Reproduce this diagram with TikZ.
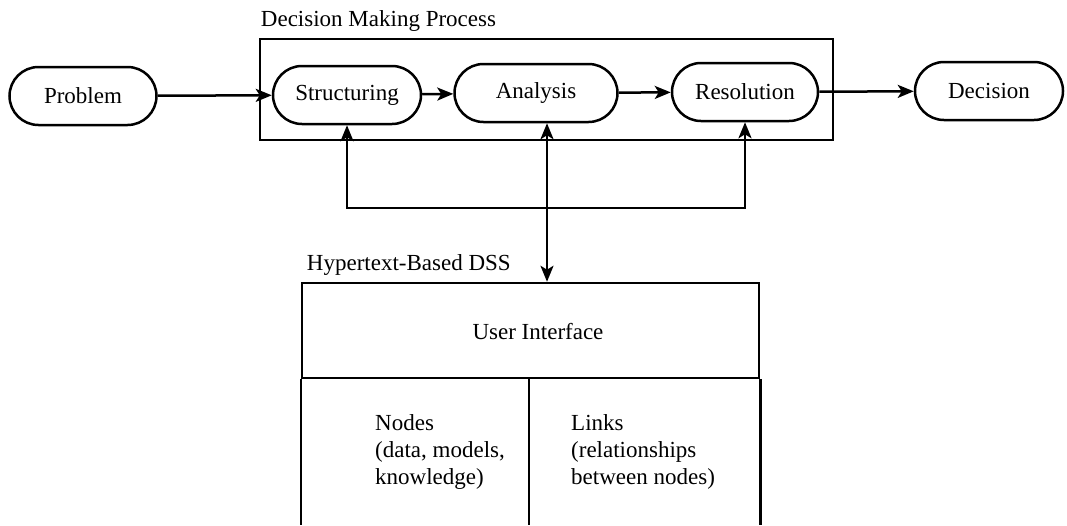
\documentclass[tikz,border=0pt]{standalone}
\usepackage{fontspec}
\setmainfont{Liberation Serif}
\usetikzlibrary{arrows.meta,shapes.misc}
\tikzset{
	stage/.style={draw,rounded rectangle,line width=2.5pt,minimum height=58pt,inner sep=0pt},
	frame/.style={draw,line width=2.5pt,inner sep=0pt},
	arr/.style={line width=2.5pt,-{Stealth[length=16pt,width=13pt,inset=4pt]}},
	darr/.style={line width=2.5pt,{Stealth[length=16pt,width=13pt,inset=4pt]}-{Stealth[length=16pt,width=13pt,inset=4pt]}}
}
\begin{document}
\begin{tikzpicture}[x=1pt,y=-1pt,font=\fontsize{23}{27}\selectfont]
\useasboundingbox (0,0) rectangle (1067,525);
\node[frame,minimum width=573pt,minimum height=101pt] (dmp) at (546.5,89.5) {};
\node[anchor=south west,inner sep=2pt] at ([yshift=4pt]dmp.north west) {Decision Making Process};
\node[stage,minimum width=147pt] (prob) at (83,96) {Problem};
\node[stage,minimum width=148pt] (struc) at (347,95) {Structuring};
\node[stage,minimum width=163pt] (anal) at (536,93) {Analysis};
\node[stage,minimum width=146pt] (res) at (745,92) {Resolution};
\node[stage,minimum width=148pt] (dec) at (989,91) {Decision};
\draw[arr] (prob) -- (struc);
\draw[arr] (struc) -- (anal);
\draw[arr] (anal) -- (res);
\draw[arr] (res) -- (dec);
\coordinate (fbl) at (347,208);
\coordinate (fbr) at (745,208);
\draw[darr] (struc.south) -- (fbl) -- (fbr) -- (res.south);
\node[frame,minimum width=457pt,minimum height=95pt] (ui) at (530.5,330.5) {};
\node at (538,332) {User Interface};
\node[anchor=south west,inner sep=2pt] at ([xshift=4pt,yshift=4pt]ui.north west) {Hypertext-Based DSS};
\coordinate (lnk) at (547,0);
\draw[darr] (anal.south -| lnk) -- (ui.north -| lnk);
\coordinate (cut) at (529,378);
\draw[line width=2.5pt] (ui.south west) -- (ui.south west |- 0,525)
	(ui.south east) -- (ui.south east |- 0,525)
	(cut) -- (cut |- 0,525);
\node[anchor=west,align=left,inner sep=0pt] (nodes) at (375,452) {Nodes\\(data, models,\\knowledge)};
\node[anchor=west,align=left,inner sep=0pt] (links) at (571,452) {Links\\(relationships\\between nodes)};
\end{tikzpicture}
\end{document}
